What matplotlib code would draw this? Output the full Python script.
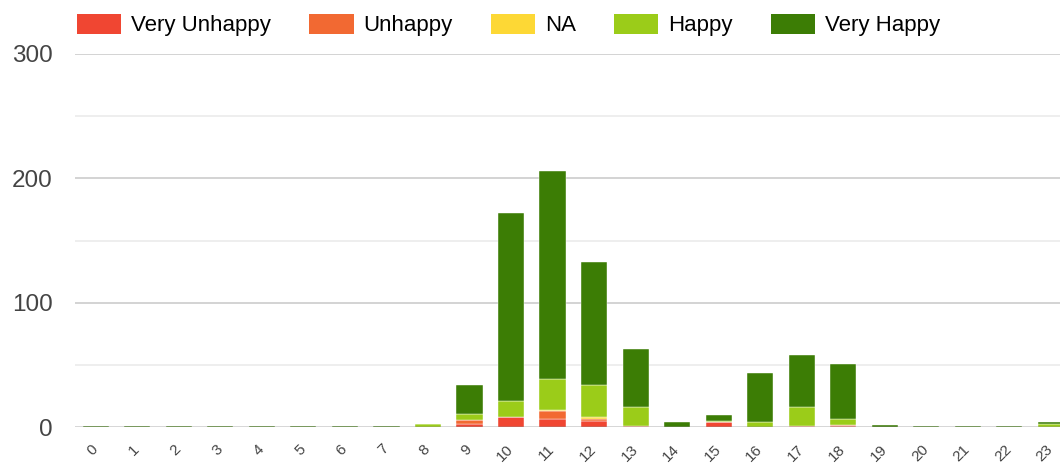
import matplotlib.pyplot as plt
import numpy as np
from matplotlib.patches import Patch

plt.rcParams['font.family'] = ['Liberation Sans', 'DejaVu Sans']

# Responses per hour of day, stacked by mood
hours = list(range(24))
very_unhappy = [0, 0, 0, 0, 0, 0, 0, 0, 0, 3, 8, 7, 5, 0, 0, 4, 0, 0, 1, 0, 0, 0, 0, 0]
unhappy      = [0, 0, 0, 0, 0, 0, 0, 0, 0, 3, 0, 6, 2, 1, 0, 0, 0, 1, 1, 0, 0, 0, 0, 0]
na           = [0, 0, 0, 0, 0, 0, 0, 0, 0, 0, 0, 1, 1, 0, 0, 0, 0, 0, 0, 0, 0, 0, 0, 0]
happy        = [0, 0, 0, 0, 0, 0, 0, 0, 3, 5, 13, 25, 26, 15, 0, 1, 4, 15, 5, 0, 0, 0, 0, 3]
very_happy   = [1, 1, 1, 1, 1, 1, 1, 1, 0, 23, 151, 167, 99, 47, 4, 5, 40, 42, 44, 2, 1, 1, 1, 1]

series = [
    ("Very Unhappy", very_unhappy, "#f04632"),
    ("Unhappy", unhappy, "#f26932"),
    ("NA", na, "#fdd835"),
    ("Happy", happy, "#9bcc19"),
    ("Very Happy", very_happy, "#3c7d05"),
]

fig = plt.figure(figsize=(10.6, 4.65), dpi=100)
ax = fig.add_axes([75 / 1060, 37.7 / 465, 1 - 75 / 1060, (427.3 - 54) / 465])

x = np.arange(len(hours))
bottom = np.zeros(len(hours))
for name, vals, color in series:
    vals = np.array(vals, dtype=float)
    ax.bar(x, vals, bottom=bottom, width=0.63, color=color,
           edgecolor="white", linewidth=0.3, zorder=2)
    bottom += vals

# gridlines: labelled every 100, light ones every 50
for yv in [50, 150, 250]:
    ax.axhline(yv, color="#ebebeb", linewidth=1.2, zorder=0)
for yv in [100, 200, 300]:
    ax.axhline(yv, color="#cccccc", linewidth=1.2, zorder=0)
ax.axhline(0, color="#333333", linewidth=1.0, zorder=3)

ax.set_xlim(-0.5, 23.22)
ax.set_ylim(0, 300)
ax.set_yticks([0, 100, 200, 300])
ax.set_xticks(x)
ax.set_xticklabels([str(h) for h in hours], rotation=45, ha="right", va="center",
                   rotation_mode="anchor", fontsize=11, color="#444444")
ax.tick_params(axis="x", length=0, pad=14)
ax.tick_params(axis="y", length=0, pad=16, labelsize=17.5, labelcolor="#444444")
for s in ax.spines.values():
    s.set_visible(False)

handles = [Patch(facecolor=c, edgecolor="none") for _, _, c in series]
fig.legend(handles, [n for n, _, _ in series], loc="center left",
           bbox_to_anchor=(77 / 1060, 1 - 25 / 465), ncol=5, frameon=False,
           fontsize=16, handlelength=2.0, handleheight=1.0,
           handletextpad=0.45, columnspacing=1.7, borderpad=0,
           borderaxespad=0)

fig.savefig("out.png", dpi=100)
